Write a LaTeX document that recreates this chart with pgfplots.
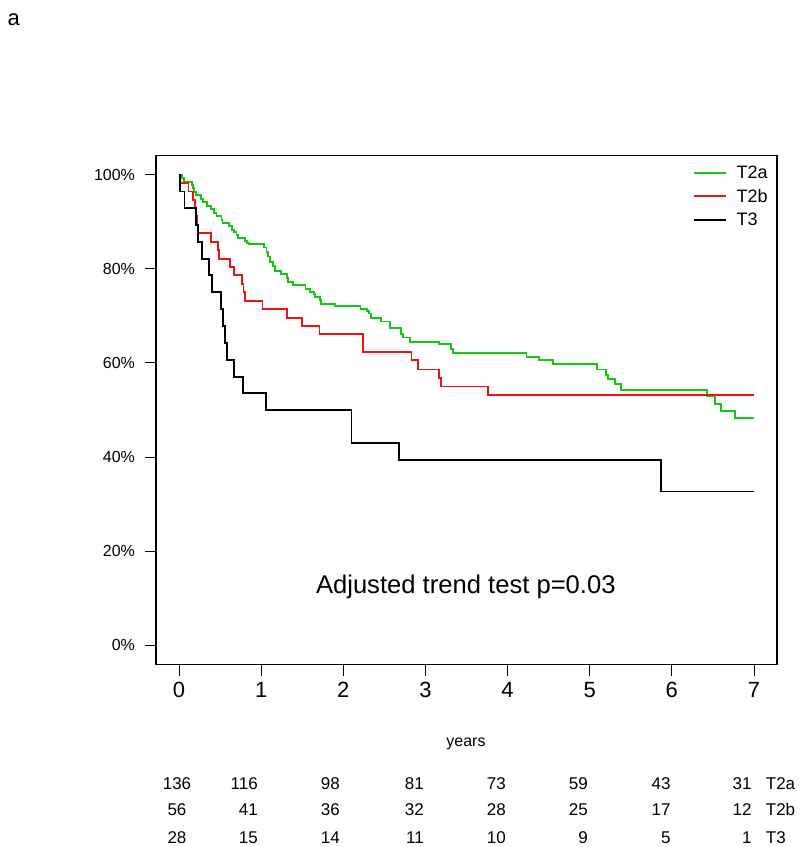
\documentclass[border=0pt]{standalone}
\usepackage{fontspec}
\setmainfont{Liberation Sans}
\usepackage{pgfplots}
\pgfplotsset{compat=1.18}
\definecolor{kmgreen}{RGB}{20,200,20}
\definecolor{kmred}{RGB}{235,20,20}
\newcommand{\fs}[1]{\fontsize{#1}{#1}\selectfont}

\begin{document}
\begin{tikzpicture}[x=1pt,y=1pt]
\path[use as bounding box] (0,0) rectangle (800,847);
\begin{axis}[
 at={(156pt,182.7pt)}, anchor=south west,
 scale only axis, width=621pt, height=508.6pt,
 xmin=-0.28, xmax=7.28, ymin=-4, ymax=104,
 xtick={0,1,2,3,4,5,6,7}, xticklabels={0,1,2,3,4,5,6,7},
 ytick={0,20,40,60,80,100}, yticklabels={0\%,20\%,40\%,60\%,80\%,100\%},
 tick align=outside, major tick length=11.5pt, tick pos=left,
 tick style={black, line width=1pt},
 axis line style={black, line width=1.2pt},
 xticklabel style={font=\fs{22}, yshift=-3pt},
 yticklabel style={font=\fs{16}, xshift=-6pt},
 legend style={draw=none, fill=none, at={(0.864,0.984)}, anchor=north west,
   font=\fs{18}, inner sep=0pt, row sep=5pt, column sep=8pt},
 legend cell align=left,
 legend image code/.code={\draw[#1] (0pt,0pt) -- (32pt,0pt);},
]
\addplot[const plot, kmgreen, line width=1.9pt] coordinates {
(0,100) (0.04,99.3) (0.058,98.5) (0.156,97.8) (0.165,97.1) (0.18,96.3)
(0.204,95.6) (0.27,94.9) (0.294,94.1) (0.343,93.4) (0.395,92.6) (0.424,91.9)
(0.456,91.2) (0.517,90.4) (0.529,89.7) (0.606,89.0) (0.647,88.3) (0.667,87.8)
(0.70,87.1) (0.716,86.6) (0.80,85.9) (0.83,85.5) (0.854,85.2) (1.03,84.5)
(1.065,83.5) (1.08,82.6) (1.11,81.4) (1.14,80.6) (1.17,79.6) (1.24,78.9)
(1.31,78.1) (1.33,77.2) (1.39,76.5) (1.54,75.6) (1.60,75.1) (1.64,74.6)
(1.66,74.0) (1.72,73.4) (1.73,72.6) (1.90,72.0) (2.21,71.5) (2.29,71.1)
(2.31,70.5) (2.34,69.6) (2.46,68.8) (2.565,67.5) (2.70,66.2) (2.73,65.4)
(2.81,64.5) (3.17,64.0) (3.31,63.0) (3.34,62.1) (4.23,61.3) (4.38,60.6)
(4.55,59.7) (5.09,58.6) (5.20,57.5) (5.22,56.5) (5.31,55.5) (5.38,54.3)
(6.43,53.0) (6.53,51.2) (6.60,49.8) (6.77,48.3) (7.0,48.3)
};
\addlegendentry{T2a}
\addplot[const plot, kmred, line width=1.9pt] coordinates {
(0,100) (0.01,98.2) (0.116,96.4) (0.172,94.6) (0.197,92.9) (0.205,91.1)
(0.215,89.3) (0.237,87.5) (0.39,85.7) (0.47,83.9) (0.49,82.1) (0.62,80.4)
(0.675,78.6) (0.77,76.8) (0.785,75.0) (0.80,73.2) (1.016,71.4) (1.32,69.6)
(1.50,67.9) (1.71,66.1) (2.24,62.4) (2.83,60.6) (2.91,58.6) (3.17,56.7)
(3.19,55.0) (3.757,53.1) (7.0,53.1)
};
\addlegendentry{T2b}
\addplot[const plot, black, line width=1.9pt] coordinates {
(0,100) (0.01,96.4) (0.067,92.9) (0.21,89.3) (0.23,85.7) (0.28,82.1)
(0.37,78.6) (0.40,75.0) (0.51,71.4) (0.54,67.9) (0.56,64.3) (0.58,60.7)
(0.67,57.1) (0.78,53.6) (1.06,50.0) (2.10,42.9) (2.674,39.3) (5.866,32.7)
(7.0,32.7)
};
\addlegendentry{T3}
\end{axis}
\node[anchor=base, font=\fs{25.6}] at (465.8,253.7) {Adjusted trend test p=0.03};
\node[anchor=base, font=\fs{16}] at (466,100) {years};
\node[anchor=base west, font=\fs{22}] at (4,821) {a};
% numbers at risk
\begin{scope}[every node/.style={font=\fs{17}, inner sep=0pt}]
\foreach \y/\a/\b/\c/\d/\e/\f/\g/\h/\n in {57/136/116/98/81/73/59/43/31/T2a, 31/56/41/36/32/28/25/17/12/T2b, 4/28/15/14/11/10/9/5/1/T3}{
 \node[anchor=base] at (177,\y) {\a};
 \node[anchor=base east] at (258,\y) {\b};
 \node[anchor=base east] at (340,\y) {\c};
 \node[anchor=base east] at (424,\y) {\d};
 \node[anchor=base east] at (506,\y) {\e};
 \node[anchor=base east] at (588,\y) {\f};
 \node[anchor=base east] at (670.7,\y) {\g};
 \node[anchor=base east] at (751.7,\y) {\h};
 \node[anchor=base west] at (765.7,\y) {\n};
}
\end{scope}
\end{tikzpicture}
\end{document}
